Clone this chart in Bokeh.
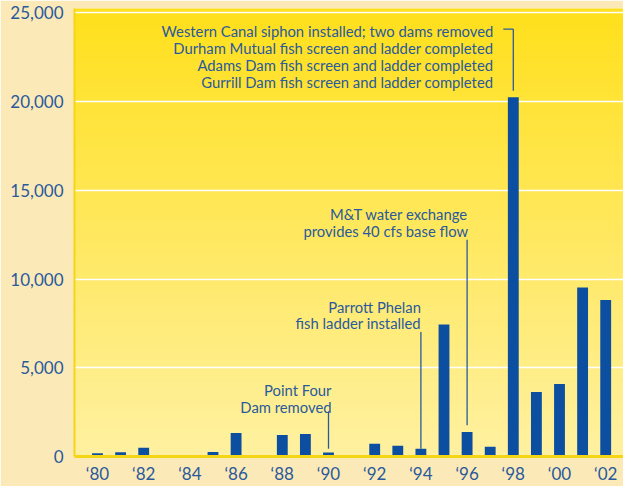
import numpy as np
from bokeh.plotting import figure
from bokeh.models import Range1d, FixedTicker, NumeralTickFormatter, ColumnDataSource
from bokeh.core.properties import value
from bokeh.embed import file_html
from bokeh.resources import INLINE

# ---- data ----
years = list(range(1980, 2003))
counts = [180, 240, 500, 50, 50, 250, 1320, 0, 1210, 1270, 230, 0,
          720, 600, 440, 7440, 1380, 550, 20250, 3640, 4080, 9530, 8820]
x_ticks = [1980, 1982, 1984, 1986, 1988, 1990, 1992, 1994, 1996, 1998, 2000, 2002]
x_tick_labels = ["‘80", "‘82", "‘84", "‘86", "‘88", "‘90", "‘92", "‘94", "‘96", "‘98", "‘00", "‘02"]
y_ticks = [0, 5000, 10000, 15000, 20000, 25000]

ann_years = [1990, 1994, 1996, 1998]
ann_texts = [
    ["Point Four", "Dam removed"],
    ["Parrott Phelan", "fish ladder installed"],
    ["M&T water exchange", "provides 40 cfs base flow"],
    ["Western Canal siphon installed; two dams removed",
     "Durham Mutual fish screen and ladder completed",
     "Adams Dam fish screen and ladder completed",
     "Gurrill Dam fish screen and ladder completed"],
]

# ---- layout / style ----
PX_PER_YR = 23.1
X0 = 1980 - 23.0 / PX_PER_YR
X1 = X0 + 549 / PX_PER_YR
Y1 = 25250
UPP = Y1 / 449.0          # data units per pixel (vertical)
YRS_PP = 1 / PX_PER_YR    # years per pixel (horizontal)

CREAM = "#FBE9B8"
BLUE = "#0C4FA1"
TXT = "#2A5A9C"
GOLD = "#F6D614"
FONT = "Lato"

p = figure(width=623, height=486, output_backend="svg", toolbar_location=None,
           x_range=Range1d(X0, X1), y_range=Range1d(0, Y1),
           min_border_left=74, min_border_right=0, min_border_top=8, min_border_bottom=21)
p.border_fill_color = CREAM
p.background_fill_color = "#FFE860"
p.outline_line_color = None

# gradient background
n = 256
t = np.linspace(0, 1, n)  # bottom -> top
bot = np.array([255, 241, 162])
top = np.array([255, 224, 28])
cols = (bot[None, :] * (1 - t[:, None]) + top[None, :] * t[:, None]).astype(np.uint32)
img = np.empty((n, 1), dtype=np.uint32)
view = img.view(dtype=np.uint8).reshape((n, 1, 4))
view[:, 0, 0] = cols[:, 0]
view[:, 0, 1] = cols[:, 1]
view[:, 0, 2] = cols[:, 2]
view[:, 0, 3] = 255
p.image_rgba(image=[img], x=X0, y=0, dw=X1 - X0, dh=Y1, level="image")

# bars
src = ColumnDataSource(dict(x=years, top=counts))
p.vbar(x="x", top="top", bottom=0, width=0.47, source=src, fill_color=BLUE, line_color=None)

# axes
p.xgrid.grid_line_color = None
p.ygrid.grid_line_color = "white"
p.ygrid.grid_line_width = 1.5
p.yaxis.ticker = FixedTicker(ticks=y_ticks)
p.yaxis.formatter = NumeralTickFormatter(format="0,0")
p.xaxis.ticker = FixedTicker(ticks=x_ticks)
p.xaxis.major_label_overrides = {k: v for k, v in zip(x_ticks, x_tick_labels)}
for ax in (p.xaxis, p.yaxis):
    ax.major_tick_line_color = None
    ax.minor_tick_line_color = None
    ax.major_label_text_color = TXT
    ax.major_label_text_font = FONT
    ax.major_label_text_font_size = "17px"
p.yaxis.axis_line_color = GOLD
p.yaxis.axis_line_width = 2
p.yaxis.major_label_standoff = 5
p.xaxis.axis_line_color = GOLD
p.xaxis.axis_line_width = 3
p.xaxis.major_label_standoff = 0

# annotations: (text right-edge offset px, first line center, line bottom, line top)
ann_layout = [
    dict(dx=3, y0=3757, lb=442, lt=2540),
    dict(dx=0, y0=8453, lb=442, lt=7017),
    dict(dx=1, y0=13647, lb=1768, lt=12210),
    dict(dx=-20, y0=23995, lb=20608, lt=24089),
]
line_sp = 17.0 * UPP
tx, ty, tt = [], [], []
sx0, sy0, sx1, sy1 = [], [], [], []
for yr, lines, lay in zip(ann_years, ann_texts, ann_layout):
    for i, s in enumerate(lines):
        tx.append(yr + lay["dx"] * YRS_PP)
        ty.append(lay["y0"] - i * line_sp)
        tt.append(s)
    sx0.append(yr); sy0.append(lay["lb"]); sx1.append(yr); sy1.append(lay["lt"])
# bracket for 1998
sx0.append(1998 - 10 * YRS_PP); sy0.append(ann_layout[3]["lt"]); sx1.append(1998); sy1.append(ann_layout[3]["lt"])

p.segment(x0=sx0, y0=sy0, x1=sx1, y1=sy1, line_color=TXT, line_width=1.3)
p.text(x=tx, y=ty, text=tt, text_align="right", text_baseline="middle",
       text_color=TXT, text_font=value(FONT), text_font_size="14.8px")

open("out.html", "w").write(file_html(p, INLINE))
